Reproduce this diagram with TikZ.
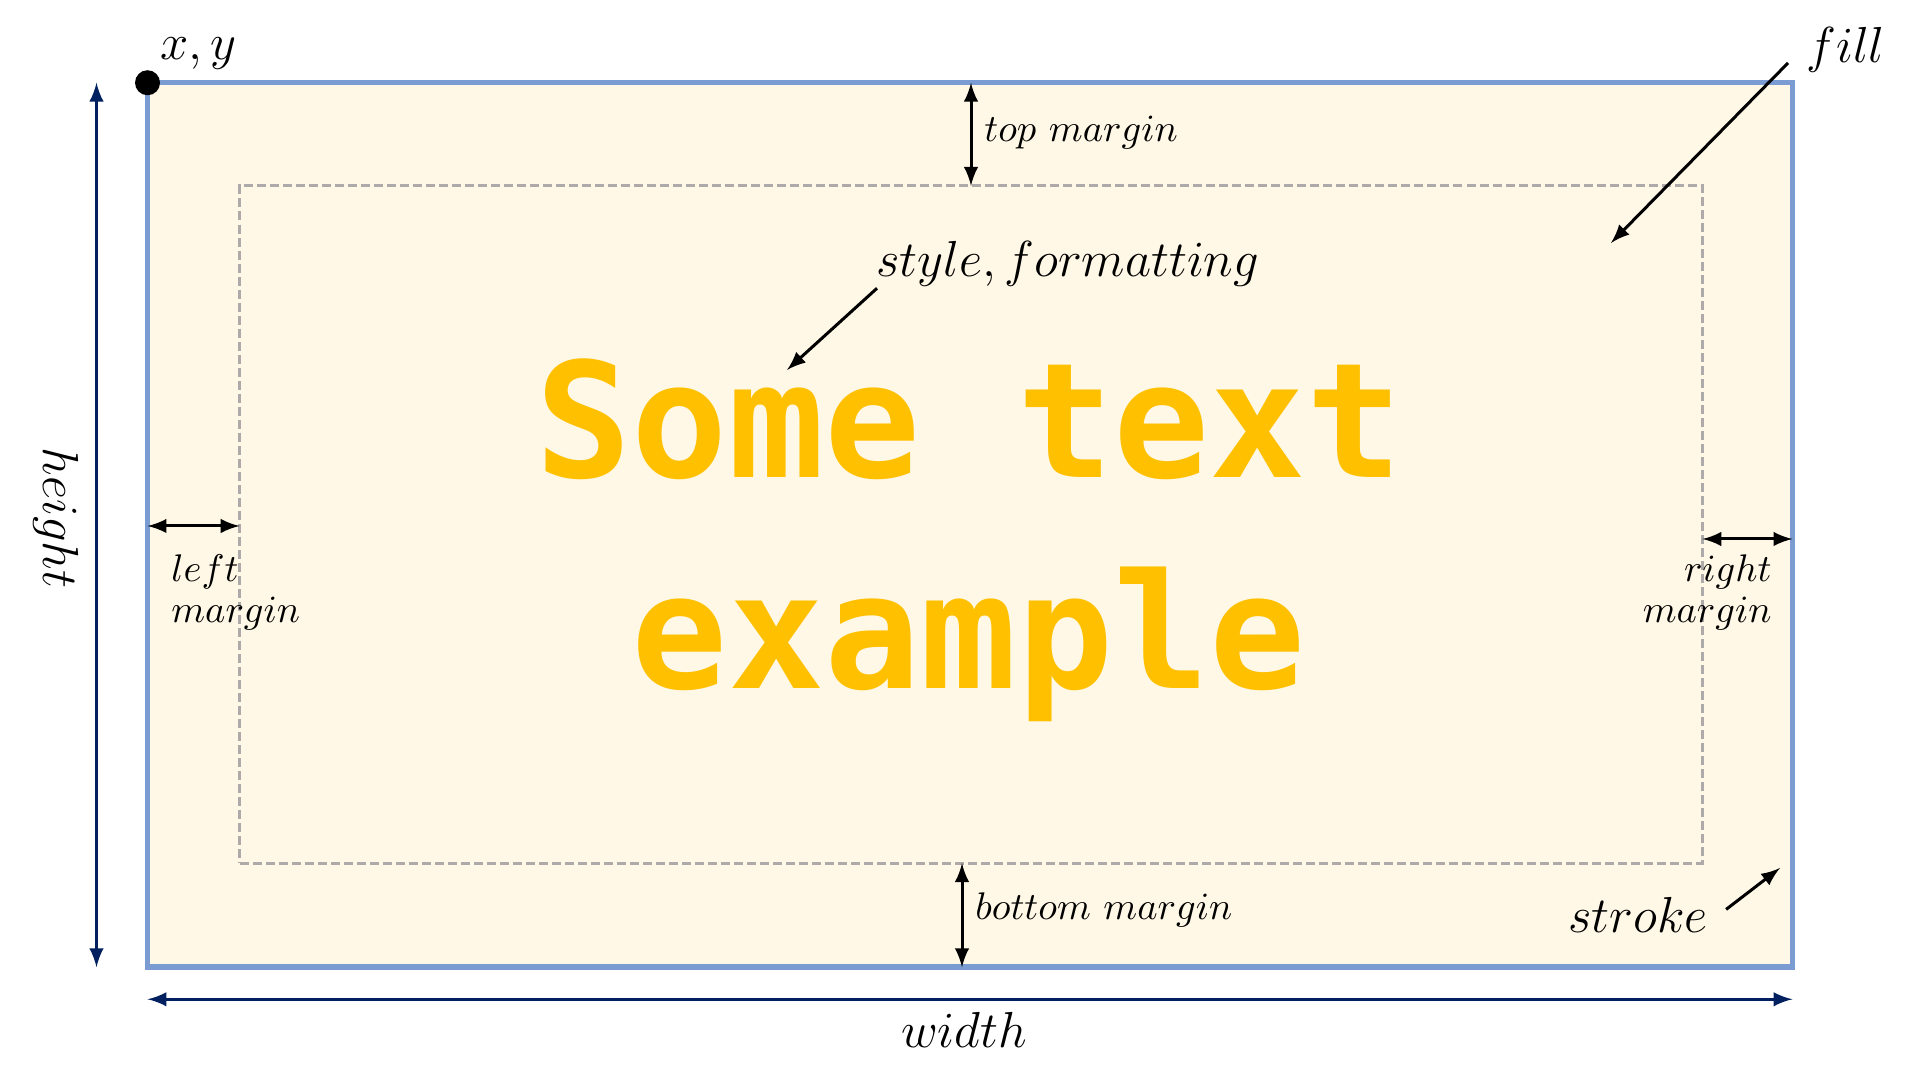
\documentclass[tikz,border=0pt]{standalone}
\usepackage{fontspec}
\usetikzlibrary{positioning, arrows}
\newfontfamily\codefont{DejaVu Sans Mono}
\definecolor{sheet}{HTML}{FFF8E6}
\definecolor{edge}{HTML}{7B9CD3}
\definecolor{navy}{HTML}{002060}
\definecolor{guide}{HTML}{AEAAAA}
\definecolor{gold}{HTML}{FFC000}

\begin{document}
\begin{tikzpicture}[
    x=0.01cm, y=-0.01cm, >=latex,
    outer/.style = {draw=edge, fill=sheet, line width=0.055cm, inner sep=0pt, outer sep=0pt,
                    minimum width=16.44cm, minimum height=8.84cm},
    inner/.style = {draw=guide, line width=0.03cm, dash pattern=on 0.09cm off 0.04cm,
                    inner sep=0pt, outer sep=0pt, minimum width=14.62cm, minimum height=6.77cm},
    dim/.style = {<->, draw=navy, line width=0.03cm},
    gap/.style = {<->, line width=0.03cm},
    note/.style = {->, line width=0.03cm},
    small/.style = {font=\fontsize{10.8}{11.7}\selectfont},
    big/.style = {font=\fontsize{14}{16}\selectfont},
    sample/.style = {text=gold, align=center, font=\codefont\bfseries\fontsize{45.5}{60}\selectfont}
]
    \useasboundingbox (0,0) rectangle (1920,1080);

    \node [outer] (page) at (970,525) {};
    \node [inner] (area) at (971,524.5) {};
    \fill (page.north west) circle [radius=0.125cm];
    \node [big, anchor=base west] (xy) at (148,60) {$x, y$};

    \draw [dim] ([xshift=-0.51cm]page.south west) -- ([xshift=-0.51cm]page.north west);
    \draw [dim] ([yshift=-0.32cm]page.south west) -- ([yshift=-0.32cm]page.south east);
    \node [big, rotate=-90] (height) at (56,518) {$height$};
    \node [big, anchor=base] (width) at (964,1048) {$width$};

    \coordinate (tm) at (971,0);
    \coordinate (bm) at (962,0);
    \coordinate (lm) at (0,526);
    \coordinate (rm) at (0,539);
    \draw [gap] (page.north -| tm) -- (area.north -| tm);
    \draw [gap] (area.south -| bm) -- (page.south -| bm);
    \draw [gap] (page.west |- lm) -- (area.west |- lm);
    \draw [gap] (area.east |- rm) -- (page.east |- rm);
    \node [small, anchor=base west] (topm) at (972,142) {$top\ margin$};
    \node [small, anchor=base west] (botm) at (963,920) {$bottom\ margin$};
    \node [small, align=left, anchor=base west] (leftm) at (159,623) {$left$\\$margin$};
    \node [small, align=right, anchor=base east] (rightm) at (1784,623) {$right$\\$margin$};

    \node [sample] (text) at (969,540) {Some text\\example};

    \node [big, anchor=base west] (style) at (864,277) {$style, formatting$};
    \coordinate (styletip) at (787,370);
    \draw [note] ([xshift=0.13cm, yshift=0.11cm]style.south west) -- (styletip);

    \node [big, anchor=base west] (fill) at (1794,63) {$fill$};
    \coordinate (filltip) at (1611,243);
    \draw [note] ([xshift=-0.06cm]fill.base west) -- (filltip);

    \node [big, anchor=base west] (stroke) at (1556,933) {$stroke$};
    \coordinate (stroketip) at (1780,868);
    \draw [note] ([xshift=0.06cm, yshift=0.06cm]stroke.east) -- (stroketip);
\end{tikzpicture}
\end{document}
